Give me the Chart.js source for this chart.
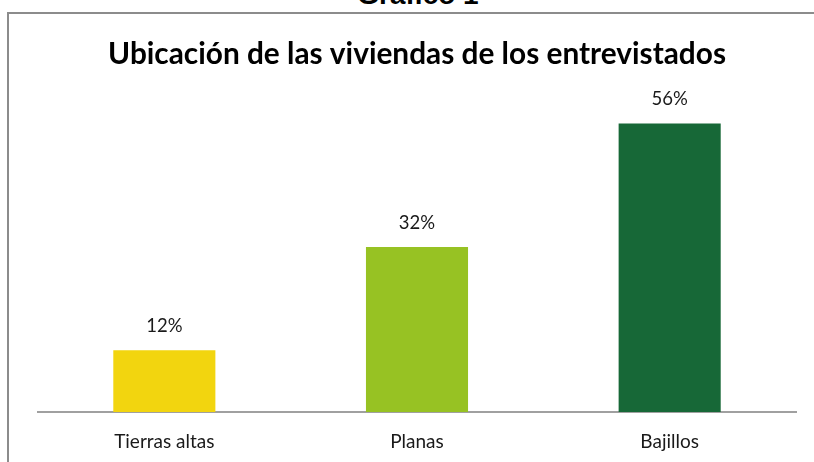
<!DOCTYPE html>
<html>
<head>
<meta charset="utf-8">
<script src="https://cdn.jsdelivr.net/npm/chart.js@4.4.1/dist/chart.umd.min.js"></script>
<style>
  html, body { margin: 0; padding: 0; background: #fff; }
  #wrap { position: relative; width: 814px; height: 462px; overflow: hidden; }
  #frame { position: absolute; left: 7px; top: 12px; width: 820px; height: 470px;
           border-left: 2px solid #8c8c8c; border-top: 2px solid #8c8c8c;
           pointer-events: none; box-sizing: border-box; }
  #hdr { position: absolute; left: 11px; width: 814px; top: -19.5px; text-align: center;
         font: bold 28px "Liberation Sans", Arial, sans-serif; color: #000; line-height: 28px; }
  canvas { position: absolute; left: 0; top: 0; }
</style>
</head>
<body>
<div id="wrap">
  <div id="hdr">Gráfico 1</div>
  <canvas id="c" width="814" height="472"></canvas>
  <div id="frame"></div>
</div>
<script>
const chartTitle = "Ubicación de las viviendas de los entrevistados";
const categories = ["Tierras altas", "Planas", "Bajillos"];
const values = [12, 32, 56];
const valueLabels = ["12%", "32%", "56%"];
const barColors = ["#F2D50F", "#97C223", "#176837"];

const labelPlugin = {
  id: "valueLabels",
  afterDatasetsDraw(chart) {
    const ctx = chart.ctx;
    const meta = chart.getDatasetMeta(0);
    ctx.save();
    ctx.font = "18.5px Lato, 'Open Sans', sans-serif";
    ctx.fillStyle = "#1a1a1a";
    ctx.textAlign = "center";
    ctx.textBaseline = "middle";
    meta.data.forEach((bar, i) => {
      ctx.fillText(valueLabels[i], bar.x, bar.y - 24);
    });
    ctx.restore();
  }
};

new Chart(document.getElementById("c"), {
  type: "bar",
  data: {
    labels: categories,
    datasets: [{
      data: values,
      backgroundColor: barColors,
      borderWidth: 0,
      barPercentage: 0.404,
      categoryPercentage: 1
    }]
  },
  options: {
    responsive: false,
    animation: false,
    layout: { padding: { left: 38, right: 18, top: 37, bottom: 0 } },
    plugins: {
      legend: { display: false },
      tooltip: { enabled: false },
      title: {
        display: true,
        text: chartTitle,
        color: "#000",
        font: { family: "Lato, 'Open Sans', sans-serif", size: 29.8, weight: "bold" },
        padding: { top: 0, bottom: 30 }
      }
    },
    scales: {
      x: {
        grid: { display: false, drawTicks: false },
        border: { display: true, color: "#a0a0a0", width: 2 },
        ticks: { color: "#1a1a1a", padding: 18.6, font: { family: "Lato, 'Open Sans', sans-serif", size: 19 } }
      },
      y: {
        display: false,
        min: 0,
        max: 60
      }
    }
  },
  plugins: [labelPlugin]
});
</script>
</body>
</html>
